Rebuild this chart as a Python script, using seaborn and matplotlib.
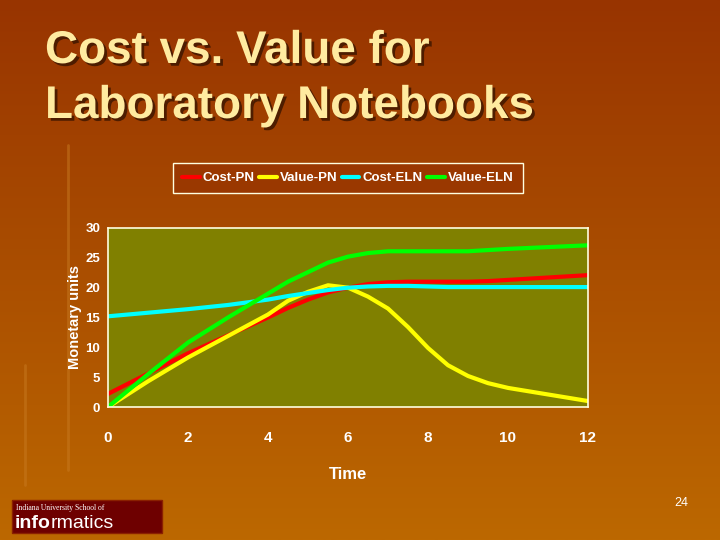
import numpy as np
import pandas as pd
import matplotlib
matplotlib.use('Agg')
import matplotlib.pyplot as plt
import matplotlib.patheffects as pe
from matplotlib.patches import Rectangle
import seaborn as sns

# data
time = [0, 1, 2, 3, 4, 4.5, 5, 5.5, 6, 6.5, 7, 7.5, 8, 8.5, 9, 9.5, 10, 11, 12]
cost_pn = [2.2, 5.6, 9.0, 12.0, 15.0, 16.6, 18.0, 19.2, 20.0, 20.6, 20.9, 21.0, 21.0, 21.0, 21.0, 21.1, 21.3, 21.7, 22.1]
value_pn = [0.0, 4.3, 8.3, 11.9, 15.5, 17.8, 19.3, 20.4, 20.0, 18.5, 16.5, 13.4, 9.9, 7.0, 5.2, 4.0, 3.2, 2.1, 1.0]
cost_eln = [15.2, 15.8, 16.4, 17.1, 18.0, 18.6, 19.1, 19.6, 20.0, 20.2, 20.3, 20.3, 20.2, 20.1, 20.1, 20.1, 20.1, 20.1, 20.1]
value_eln = [0.0, 5.5, 10.8, 15.0, 19.0, 21.0, 22.6, 24.2, 25.2, 25.8, 26.1, 26.1, 26.1, 26.1, 26.1, 26.3, 26.5, 26.8, 27.1]
series = ['Cost-PN', 'Value-PN', 'Cost-ELN', 'Value-ELN']
colors = ['#FF0000', '#FFFF00', '#00FFFF', '#00FF00']
x_ticks = [0, 2, 4, 6, 8, 10, 12]
y_ticks = [0, 5, 10, 15, 20, 25, 30]

df = pd.DataFrame({'Time': time * 4,
                   'value': cost_pn + value_pn + cost_eln + value_eln,
                   'series': sum([[s] * len(time) for s in series], [])})

sns.set_style('white')
plt.rcParams['font.family'] = ['Liberation Sans', 'DejaVu Sans']

fig = plt.figure(figsize=(7.2, 5.4), dpi=100)

# slide background gradient
bg = fig.add_axes([0, 0, 1, 1], zorder=-10)
grad = np.linspace(0, 1, 256).reshape(-1, 1)
top = np.array([0x98, 0x34, 0x00]) / 255
bot = np.array([0xBC, 0x68, 0x00]) / 255
img = top + (bot - top) * grad[..., None]
bg.imshow(img, aspect='auto', extent=[0, 1, 0, 1], origin='upper')
bg.set_xlim(0, 1)
bg.set_ylim(0, 1)
bg.axis('off')
bg.plot([68 / 720, 68 / 720], [1 - 145 / 540, 1 - 470 / 540], color='#C87A20', lw=2, alpha=0.5)
bg.plot([25 / 720, 25 / 720], [1 - 365 / 540, 1 - 485 / 540], color='#C87A20', lw=2, alpha=0.5)

# title
shadow = [pe.withSimplePatchShadow(offset=(2, -2), shadow_rgbFace='#3A1500', alpha=0.8)]
fig.text(45 / 720, 1 - 63 / 540, 'Cost vs. Value for', ha='left', va='baseline',
         fontsize=33, fontweight='bold', color='#FFEBA0', path_effects=shadow)
fig.text(45 / 720, 1 - 118 / 540, 'Laboratory Notebooks', ha='left', va='baseline',
         fontsize=33, fontweight='bold', color='#FFEBA0', path_effects=shadow)

ax = fig.add_axes([108 / 720, 1 - 407 / 540, 480 / 720, 179 / 540])
ax.set_facecolor('#808000')
sns.lineplot(data=df, x='Time', y='value', hue='series', hue_order=series,
             palette=colors, linewidth=3, ax=ax, legend=False)
ax.set_xlim(0, 12)
ax.set_ylim(0, 30)
ax.set_xticks(x_ticks)
ax.set_yticks(y_ticks)
for s in ax.spines.values():
    s.set_color('#FFFFE0')
    s.set_linewidth(1.2)
ax.tick_params(colors='#FFFFE0', length=4, width=1, direction='out')
for lab in ax.get_xticklabels():
    lab.set_fontweight('bold')
    lab.set_fontsize(11)
    lab.set_color('white')
for lab in ax.get_yticklabels():
    lab.set_fontweight('bold')
    lab.set_fontsize(9.5)
    lab.set_color('white')
ax.tick_params(axis='x', pad=13)
ax.tick_params(axis='y', pad=1.5)
ax.set_xlabel('Time', color='white', fontsize=12, fontweight='bold', labelpad=16)
ax.set_ylabel('Monetary units', color='white', fontsize=10.5, fontweight='bold')
ax.yaxis.set_label_coords(-0.054, 0.5)

handles = [plt.Line2D([], [], color=c, lw=3) for c in colors]
leg = fig.legend(handles, series, loc='center', bbox_to_anchor=(348 / 720, 1 - 178 / 540),
                 ncol=4, frameon=True, fancybox=False, handlelength=1.3, handletextpad=0.25,
                 columnspacing=0.35, prop={'weight': 'bold', 'size': 9.5},
                 borderpad=0.7, borderaxespad=0)
leg.get_frame().set_facecolor('#9A3800')
leg.get_frame().set_edgecolor('#FFFFE0')
leg.get_frame().set_alpha(1)
for t in leg.get_texts():
    t.set_color('white')

# logo
fig.patches.append(Rectangle((12 / 720, 1 - 533 / 540), 150 / 720, 33 / 540,
                             transform=fig.transFigure, facecolor='#6E0000', edgecolor='#8A2000'))
fig.text(16 / 720, 1 - 508 / 540, 'Indiana University School of', fontsize=5.5,
         family='Liberation Serif', color='white', va='center')
t1 = fig.text(15 / 720, 1 - 528 / 540, 'info', fontsize=14, fontweight='bold', color='white', va='baseline')
fig.canvas.draw()
ext = t1.get_window_extent()
fig.text(ext.x1 / 720, 1 - 528 / 540, 'rmatics', fontsize=14, color='white', va='baseline', ha='left')

fig.text(681 / 720, 1 - 503 / 540, '24', fontsize=9, color='white', ha='center', va='center')

fig.savefig('out.png', dpi=100)
